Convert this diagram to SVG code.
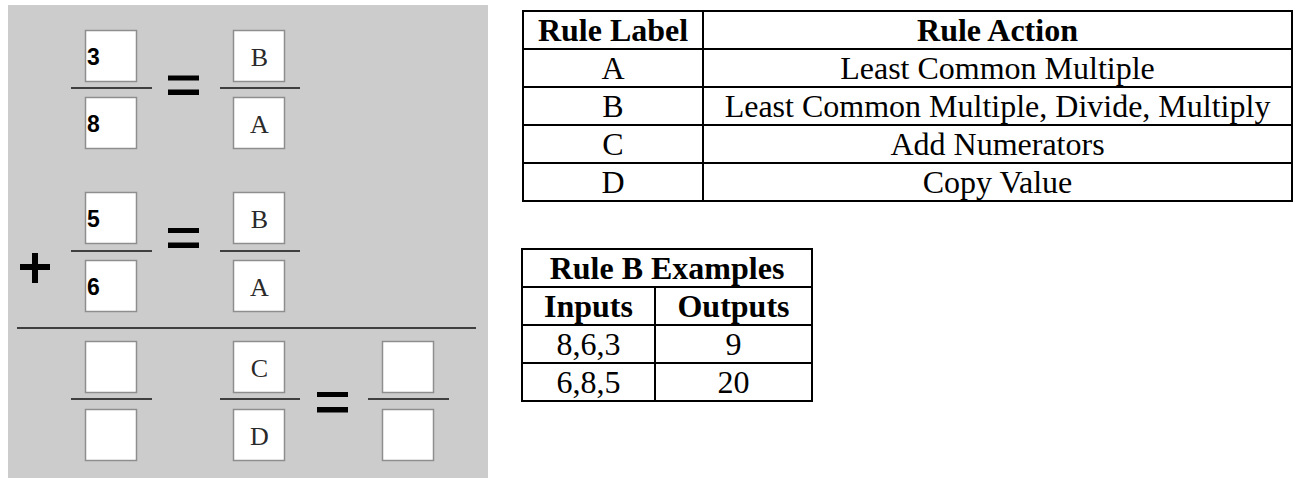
<svg xmlns="http://www.w3.org/2000/svg" width="1297" height="478" viewBox="0 0 1297 478">
  <style>
    .panel { fill: #cccccc; }
    .box { fill: #ffffff; stroke: #8e8e8e; stroke-width: 1.5; }
    .bar { stroke: #111111; stroke-width: 1.6; fill: none; }
    .sym { fill: #000000; }
    .num { font-family: "Liberation Sans", Arial, sans-serif; font-size: 23px; font-weight: bold; fill: #000; }
    .lbl { font-family: "Liberation Serif", "Times New Roman", serif; font-size: 26px; fill: #2a2a2a; text-anchor: middle; }
    .grid { stroke: #000; stroke-width: 2; fill: none; }
    .th { font-family: "Liberation Serif", "Times New Roman", serif; font-size: 32px; font-weight: bold; fill: #000; text-anchor: middle; }
    .td { font-family: "Liberation Serif", "Times New Roman", serif; font-size: 32px; fill: #000; text-anchor: middle; }
  </style>

  <!-- worksheet panel -->
  <rect class="panel" x="8" y="5" width="480" height="473"/>

  <!-- row 1: 3/8 = B/A -->
  <g id="n-r1-num"><rect class="box" x="85.5" y="30.5" width="51" height="51"/><text class="num" x="87" y="65">3</text></g>
  <g id="n-r1-den"><rect class="box" x="85.5" y="97.5" width="51" height="51"/><text class="num" x="87" y="132">8</text></g>
  <g id="n-r1-b"><rect class="box" x="233.5" y="30.5" width="51" height="51"/><text class="lbl" x="259.5" y="66">B</text></g>
  <g id="n-r1-a"><rect class="box" x="233.5" y="97.5" width="51" height="51"/><text class="lbl" x="259.5" y="133">A</text></g>

  <!-- row 2: 5/6 = B/A -->
  <g id="n-r2-num"><rect class="box" x="85.5" y="192.5" width="51" height="51"/><text class="num" x="87" y="227">5</text></g>
  <g id="n-r2-den"><rect class="box" x="85.5" y="260.5" width="51" height="51"/><text class="num" x="87" y="295">6</text></g>
  <g id="n-r2-b"><rect class="box" x="233.5" y="192.5" width="51" height="51"/><text class="lbl" x="259.5" y="228">B</text></g>
  <g id="n-r2-a"><rect class="box" x="233.5" y="260.5" width="51" height="51"/><text class="lbl" x="259.5" y="296">A</text></g>

  <!-- row 3: sum -->
  <g id="n-r3-num"><rect class="box" x="85.5" y="341.5" width="51" height="51"/></g>
  <g id="n-r3-den"><rect class="box" x="85.5" y="409.5" width="51" height="51"/></g>
  <g id="n-r3-c"><rect class="box" x="233.5" y="341.5" width="51" height="51"/><text class="lbl" x="259.5" y="377">C</text></g>
  <g id="n-r3-d"><rect class="box" x="233.5" y="409.5" width="51" height="51"/><text class="lbl" x="259.5" y="445">D</text></g>
  <g id="n-r3-rnum"><rect class="box" x="382.5" y="341.5" width="51" height="51"/></g>
  <g id="n-r3-rden"><rect class="box" x="382.5" y="409.5" width="51" height="51"/></g>

  <!-- fraction bars, signs and sum rule -->
  <g id="connectors">
    <line class="bar" x1="71" y1="88" x2="152" y2="88"/>
    <line class="bar" x1="220" y1="88" x2="300" y2="88"/>
    <line class="bar" x1="71" y1="251" x2="152" y2="251"/>
    <line class="bar" x1="220" y1="251" x2="300" y2="251"/>
    <line class="bar" x1="17" y1="328" x2="476" y2="328"/>
    <line class="bar" x1="71" y1="399" x2="152" y2="399"/>
    <line class="bar" x1="220" y1="399" x2="300" y2="399"/>
    <line class="bar" x1="368" y1="399" x2="449" y2="399"/>

    <rect class="sym" x="168" y="75.5" width="31" height="5"/>
    <rect class="sym" x="168" y="89.5" width="31" height="5.5"/>
    <rect class="sym" x="168" y="228" width="31" height="5"/>
    <rect class="sym" x="168" y="242.5" width="31" height="5.5"/>
    <rect class="sym" x="317" y="392" width="31" height="5"/>
    <rect class="sym" x="317" y="407" width="31" height="5.5"/>

    <rect class="sym" x="20" y="264" width="30" height="6"/>
    <rect class="sym" x="32" y="253" width="6" height="30"/>
  </g>

  <!-- rule table -->
  <g id="rules-table">
    <rect class="grid" x="523" y="11" width="769" height="190"/>
    <line class="grid" x1="703" y1="11" x2="703" y2="201"/>
    <line class="grid" x1="523" y1="49" x2="1292" y2="49"/>
    <line class="grid" x1="523" y1="87" x2="1292" y2="87"/>
    <line class="grid" x1="523" y1="125" x2="1292" y2="125"/>
    <line class="grid" x1="523" y1="163" x2="1292" y2="163"/>
    <text class="th" x="613" y="41">Rule Label</text>
    <text class="th" x="997.5" y="41">Rule Action</text>
    <text class="td" x="613" y="79">A</text>
    <text class="td" x="997.5" y="79">Least Common Multiple</text>
    <text class="td" x="613" y="117">B</text>
    <text class="td" x="997.5" y="117">Least Common Multiple, Divide, Multiply</text>
    <text class="td" x="613" y="155">C</text>
    <text class="td" x="997.5" y="155">Add Numerators</text>
    <text class="td" x="613" y="193">D</text>
    <text class="td" x="997.5" y="193">Copy Value</text>
  </g>

  <!-- rule B examples table -->
  <g id="examples-table">
    <rect class="grid" x="522" y="249" width="290" height="152"/>
    <line class="grid" x1="522" y1="287" x2="812" y2="287"/>
    <line class="grid" x1="522" y1="325" x2="812" y2="325"/>
    <line class="grid" x1="522" y1="363" x2="812" y2="363"/>
    <line class="grid" x1="655" y1="287" x2="655" y2="401"/>
    <text class="th" x="667" y="279">Rule B Examples</text>
    <text class="th" x="588.5" y="317">Inputs</text>
    <text class="th" x="733.5" y="317">Outputs</text>
    <text class="td" x="588.5" y="355">8,6,3</text>
    <text class="td" x="733.5" y="355">9</text>
    <text class="td" x="588.5" y="393">6,8,5</text>
    <text class="td" x="733.5" y="393">20</text>
  </g>
</svg>
